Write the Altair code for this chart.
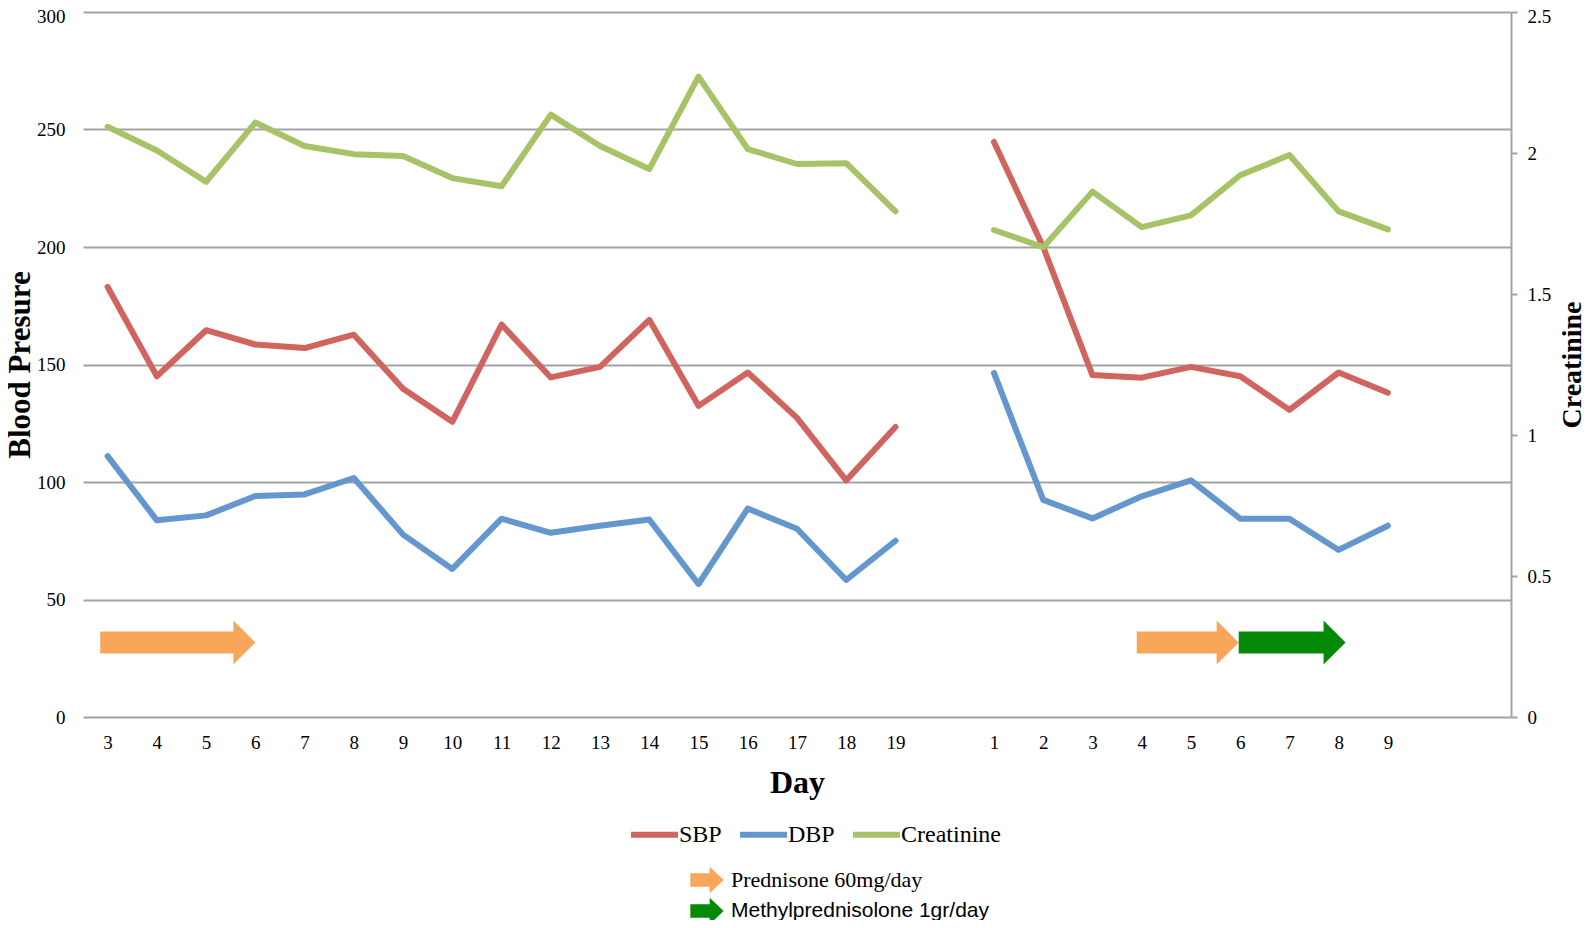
import json
import altair as alt
import pandas as pd

# ---------------- data ----------------
x_labels = ["3", "4", "5", "6", "7", "8", "9", "10", "11", "12", "13", "14", "15", "16",
            "17", "18", "19", "", "1", "2", "3", "4", "5", "6", "7", "8", "9", "", ""]
idx_first = list(range(0, 17))
idx_second = list(range(18, 27))

sbp_first = [183, 145, 164.6, 158.5, 157, 162.7, 139.7, 125.6, 167, 144.5, 149,
             169, 132.4, 146.6, 127.3, 100.7, 123.4]
sbp_second = [244.7, 200, 145.5, 144.4, 149, 145, 130.7, 146.6, 138]

dbp_first = [111, 83.7, 85.8, 94, 94.7, 101.7, 77.6, 63, 84.4, 78.4, 81.4, 84,
             56.6, 88.7, 80.1, 58.3, 75]
dbp_second = [146.4, 92.4, 84.5, 93.9, 100.7, 84.4, 84.4, 71.1, 81.4]

creat_first = [2.093, 2.009, 1.898, 2.108, 2.025, 1.996, 1.989, 1.911, 1.882,
               2.136, 2.025, 1.943, 2.271, 2.014, 1.961, 1.964, 1.793]
creat_second = [1.727, 1.666, 1.863, 1.737, 1.779, 1.921, 1.993, 1.793, 1.729]

series_names = ["SBP", "DBP", "Creatinine"]
series_colors = ["#CF655E", "#6497CD", "#A6C467"]

arrow_drug = ["Prednisone 60mg/day", "Prednisone 60mg/day", "Methylprednisolone 1gr/day"]
arrow_start = [-0.15, 20.9, 22.97]
arrow_tip = [3.0, 22.97, 25.14]
arrow_level = [31.7, 31.7, 31.7]

legend_drugs = ["Prednisone 60mg/day", "Methylprednisolone 1gr/day"]
drug_colors = {"Prednisone 60mg/day": "#F8A75A", "Methylprednisolone 1gr/day": "#048A06"}

# ---------------- tables ----------------
rows = []
for name, first, second in [("SBP", sbp_first, sbp_second), ("DBP", dbp_first, dbp_second)]:
    for i, v in zip(idx_first, first):
        rows.append({"idx": i, "value": v, "series": name, "period": "a"})
    for i, v in zip(idx_second, second):
        rows.append({"idx": i, "value": v, "series": name, "period": "b"})
bp_df = pd.DataFrame(rows)

rows = []
for i, v in zip(idx_first, creat_first):
    rows.append({"idx": i, "value": v, "series": "Creatinine", "period": "a"})
for i, v in zip(idx_second, creat_second):
    rows.append({"idx": i, "value": v, "series": "Creatinine", "period": "b"})
cr_df = pd.DataFrame(rows)

arrow_df = pd.DataFrame({"drug": arrow_drug, "start": arrow_start,
                         "tip": arrow_tip, "level": arrow_level})
legend_df = pd.DataFrame({"drug": legend_drugs})

# ---------------- layout ----------------
W, H = 1428, 705
SERIF = "Liberation Serif"
SANS = "Liberation Sans"
GRID = "#A3A3A3"

tick_vals = [i for i, l in enumerate(x_labels) if l]
label_expr = json.dumps(x_labels) + "[datum.value]"

x_scale = alt.Scale(domain=[-0.5, len(x_labels) - 0.5], nice=False, zero=False)
x_axis = alt.Axis(values=tick_vals, labelExpr=label_expr, title="Day", grid=False,
                  domain=False, ticks=False, labelPadding=16, labelFontSize=19,
                  labelFont=SERIF, labelColor="black", titleFont=SERIF,
                  titleFontSize=32, titleFontWeight="bold", titleColor="black",
                  titlePadding=15)

yl_max = 300
yl_scale = alt.Scale(domain=[0, yl_max], nice=False, zero=True)
yl_axis = alt.Axis(values=list(range(0, yl_max + 1, 50)), grid=True, gridColor=GRID, gridWidth=2,
                   domain=False, ticks=False, labelPadding=18, labelFontSize=19,
                   labelFont=SERIF, labelColor="black",
                   labelOffset={"condition": {"test": f"datum.value == {yl_max}", "value": 4},
                                "value": 0},
                   title="Blood Presure",
                   titleFont=SERIF, titleFontSize=31, titleFontWeight="bold",
                   titleColor="black", titlePadding=0)

yr_max = 2.5
yr_scale = alt.Scale(domain=[0, yr_max], nice=False, zero=True)
yr_axis = alt.Axis(orient="right", values=[0, 0.5, 1, 1.5, 2, 2.5], format="~g",
                   grid=False, domain=True, domainColor=GRID, domainWidth=2,
                   ticks=True, tickColor=GRID, tickWidth=2, tickSize=6,
                   labelPadding=10, labelFontSize=19, labelFont=SERIF, labelColor="black",
                   labelOffset={"condition": {"test": f"datum.value == {yr_max}", "value": 4},
                                "value": 0},
                   title="Creatinine", titleAngle=270, titleBaseline="top", titleFont=SERIF,
                   titleFontSize=28, titleFontWeight="bold", titleColor="black",
                   titlePadding=8)

color_scale = alt.Scale(domain=series_names, range=series_colors)
color_legend = alt.Legend(orient="none", legendX=545, legendY=796, direction="horizontal",
                          title=None, symbolType="stroke", symbolSize=2209,
                          symbolStrokeWidth=6, labelFont=SERIF, labelFontSize=24,
                          labelColor="black", labelOffset={"expr": "-2"},
                          columnPadding=6, padding=0)

line_props = dict(strokeWidth=6, strokeCap="round", strokeJoin="round")

bp_lines = alt.Chart(bp_df).mark_line(**line_props).encode(
    x=alt.X("idx:Q", scale=x_scale, axis=x_axis),
    y=alt.Y("value:Q", scale=yl_scale, axis=yl_axis),
    color=alt.Color("series:N", scale=color_scale, legend=color_legend),
    detail="period:N",
    order="idx:Q",
)

layers_left = [bp_lines]
for drug in legend_drugs:
    sub = alt.Chart(arrow_df).transform_filter(alt.datum.drug == drug)
    shaft = sub.mark_rule(strokeWidth=22, strokeCap="butt", x2Offset=-20,
                          color=drug_colors[drug]).encode(
        x=alt.X("start:Q", scale=x_scale, axis=x_axis),
        x2="tip:Q",
        y=alt.Y("level:Q", scale=yl_scale, axis=yl_axis),
    )
    head = sub.mark_point(shape="M-0.5,-1L0.5,0L-0.5,1Z", size=1936, filled=True,
                          opacity=1, strokeWidth=0, xOffset=-11,
                          color=drug_colors[drug]).encode(
        x=alt.X("tip:Q", scale=x_scale, axis=x_axis),
        y=alt.Y("level:Q", scale=yl_scale, axis=yl_axis),
    )
    layers_left += [shaft, head]

# manual legend for the treatment arrows
arrow_icon = "M-1,-0.4L0.16,-0.4L0.16,-0.8L1,0L0.16,0.8L0.16,0.4L-1,0.4Z"
leg_rows_y = {"Prednisone 60mg/day": 868, "Methylprednisolone 1gr/day": 899}
leg_fonts = {"Prednisone 60mg/day": (SERIF, 22), "Methylprednisolone 1gr/day": (SANS, 21)}
for drug in legend_drugs:
    sub = alt.Chart(legend_df).transform_filter(alt.datum.drug == drug)
    icon = sub.mark_point(shape=arrow_icon, size=1111, filled=True, opacity=1,
                          strokeWidth=0, color=drug_colors[drug]).encode(
        x=alt.value(624), y=alt.value(leg_rows_y[drug]))
    font, fs = leg_fonts[drug]
    txt = sub.mark_text(align="left", baseline="middle", font=font, fontSize=fs,
                        color="black").encode(
        x=alt.value(648), y=alt.value(leg_rows_y[drug]), text="drug:N")
    layers_left += [icon, txt]

left = alt.layer(*layers_left)

cr_line = alt.Chart(cr_df).mark_line(**line_props).encode(
    x=alt.X("idx:Q", scale=x_scale, axis=x_axis),
    y=alt.Y("value:Q", scale=yr_scale, axis=yr_axis),
    color=alt.Color("series:N", scale=color_scale, legend=color_legend),
    detail="period:N",
    order="idx:Q",
)

chart = alt.layer(left, cr_line).resolve_scale(y="independent").properties(
    width=W, height=H,
    autosize=alt.AutoSizeParams(type="none"),
    padding={"left": 75, "top": 4, "right": 75, "bottom": 203},
    background="white",
).configure_view(stroke=None)

chart.save("out.html", embed_options={"renderer": "svg", "actions": False})
